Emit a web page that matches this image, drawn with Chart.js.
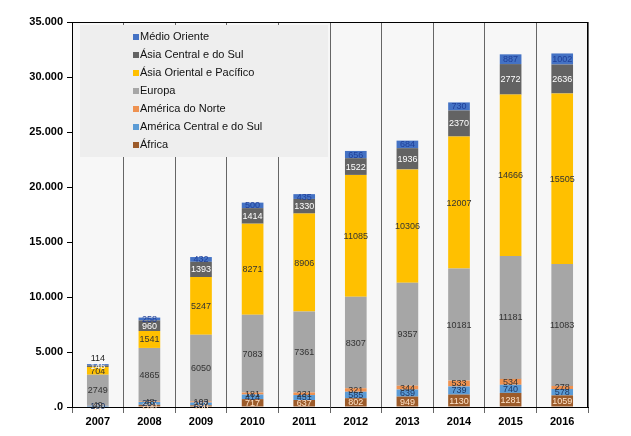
<!DOCTYPE html>
<html>
<head>
<meta charset="utf-8">
<script src="https://cdn.jsdelivr.net/npm/chart.js@4"></script>
<style>
  html, body { margin: 0; padding: 0; background: #fff; }
  #wrap { width: 631px; height: 436px; }
</style>
</head>
<body>
<div id="wrap"><canvas id="chart" width="631" height="436"></canvas></div>
<script>
// categories and series (stacked bottom -> top)
const years = ["2007", "2008", "2009", "2010", "2011", "2012", "2013", "2014", "2015", "2016"];

const africa         = [37, 200, 150, 717, 637, 802, 949, 1130, 1281, 1059];
const centralAmerica = [100, 257, 257, 414, 451, 585, 639, 739, 740, 578];
const northAmerica   = [49, 48, 103, 181, 231, 321, 344, 533, 534, 278];
const europe         = [2749, 4865, 6050, 7083, 7361, 8307, 9357, 10181, 11181, 11083];
const eastAsia       = [704, 1541, 5247, 8271, 8906, 11085, 10306, 12007, 14666, 15505];
const southAsia      = [146, 960, 1393, 1414, 1330, 1522, 1936, 2370, 2772, 2636];
const middleEast     = [114, 258, 432, 500, 435, 656, 684, 730, 887, 1002];

const FONT = "'Liberation Sans', Arial, sans-serif";

const series = [
    { label: "África", data: africa, color: "#9C5B2A", text: "#FFE3C8" },
    { label: "América Central e do Sul", data: centralAmerica, color: "#5B9BD5", text: "#1F3864" },
    { label: "América do Norte", data: northAmerica, color: "#EE9150", text: "#333333" },
    { label: "Europa", data: europe, color: "#A6A6A6", text: "#333333" },
    { label: "Ásia Oriental e Pacífico", data: eastAsia, color: "#FFC000", text: "#333333" },
    { label: "Ásia Central e do Sul", data: southAsia, color: "#636363", text: "#FFFFFF" },
    { label: "Médio Oriente", data: middleEast, color: "#4472C4", text: "#1F3F99" }
];

// plot background + top/right border
const plotBackground = {
    id: "plotBackground",
    beforeDraw(chart) {
        const { ctx, chartArea: a } = chart;
        ctx.save();
        ctx.fillStyle = "#F7F7F7";
        ctx.fillRect(a.left, a.top, a.right - a.left, a.bottom - a.top);
        ctx.restore();
    },
    afterDraw(chart) {
        const { ctx, chartArea: a } = chart;
        ctx.save();
        ctx.strokeStyle = "#000";
        ctx.lineWidth = 1;
        ctx.beginPath();
        ctx.moveTo(a.left, a.top + 0.5);
        ctx.lineTo(a.right, a.top + 0.5);
        ctx.moveTo(a.right - 0.5, a.top);
        ctx.lineTo(a.right - 0.5, a.bottom);
        ctx.stroke();
        ctx.restore();
    }
};

// value labels inside each segment
const segmentLabels = {
    id: "segmentLabels",
    afterDatasetsDraw(chart) {
        const ctx = chart.ctx;
        ctx.save();
        ctx.font = "9px " + FONT;
        ctx.textAlign = "center";
        ctx.textBaseline = "middle";
        chart.data.datasets.forEach((ds, i) => {
            const meta = chart.getDatasetMeta(i);
            meta.data.forEach((bar, j) => {
                const v = ds.data[j];
                let y = (bar.y + bar.base) / 2;
                // too thin top segment: put the number just above the bar
                if (i === chart.data.datasets.length - 1 && Math.abs(bar.base - bar.y) < 2) {
                    y = bar.y - 6;
                    ctx.fillStyle = "#222";
                } else {
                    ctx.fillStyle = ds.textColor;
                }
                ctx.fillText(String(v), bar.x, y + 0.5);
            });
        });
        ctx.restore();
    }
};

// legend drawn inside the plot area, top-left, reversed order
const insideLegend = {
    id: "insideLegend",
    afterDraw(chart) {
        const ctx = chart.ctx;
        ctx.save();
        ctx.fillStyle = "#EEEEEE";
        ctx.fillRect(80, 25, 248, 132);
        ctx.font = "11px " + FONT;
        ctx.textBaseline = "middle";
        ctx.textAlign = "left";
        const items = chart.data.datasets.slice().reverse();
        items.forEach((ds, k) => {
            const y = 37 + k * 18;
            ctx.fillStyle = ds.backgroundColor;
            ctx.fillRect(133, y - 3, 6, 6);
            ctx.fillStyle = "#111";
            ctx.fillText(ds.label, 140, y);
        });
        ctx.restore();
    }
};

new Chart(document.getElementById("chart"), {
    type: "bar",
    data: {
        labels: years,
        datasets: series.map(s => ({
            label: s.label,
            data: s.data,
            backgroundColor: s.color,
            textColor: s.text,
            borderWidth: 0,
            barPercentage: 0.42,
            categoryPercentage: 1
        }))
    },
    options: {
        responsive: false,
        animation: false,
        layout: { padding: { top: 22, right: 43, bottom: 6, left: 0 } },
        plugins: {
            legend: { display: false },
            tooltip: { enabled: false }
        },
        scales: {
            x: {
                stacked: true,
                offset: true,
                grid: { offset: true, color: "#666", lineWidth: 1, tickLength: 6 },
                border: { display: true, color: "#000" },
                ticks: { color: "#000", font: { family: FONT, size: 11, weight: "bold" }, padding: 2 },
                afterFit(scale) { scale.height = 23; }
            },
            y: {
                stacked: true,
                min: 0,
                max: 35000,
                grid: { drawOnChartArea: false, drawTicks: true, tickLength: 5, color: "#000" },
                border: { display: true, color: "#000" },
                ticks: {
                    stepSize: 5000,
                    color: "#000",
                    padding: 4,
                    font: { family: FONT, size: 11, weight: "bold" },
                    callback: v => v === 0 ? ".0" : v.toLocaleString("de-DE")
                },
                afterFit(scale) { scale.width = 72; }
            }
        }
    },
    plugins: [plotBackground, segmentLabels, insideLegend]
});
</script>
</body>
</html>
